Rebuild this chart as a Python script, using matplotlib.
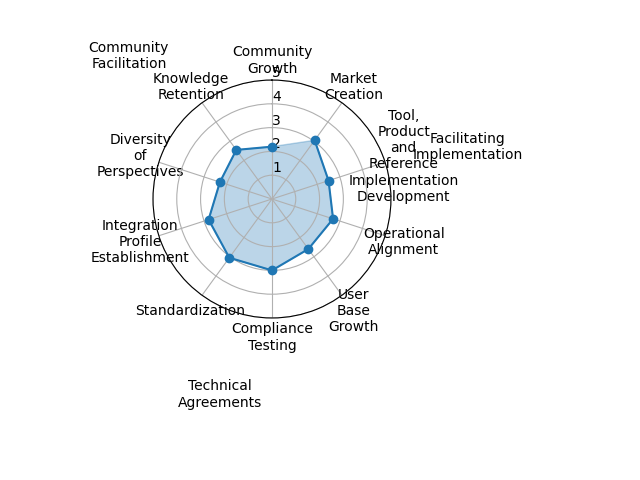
import numpy as np
import matplotlib
matplotlib.use('Agg')
import matplotlib.pyplot as plt

# categories in drawing order (counter-clockwise from the top)
categories = ['Community Growth', 'Knowledge Retention', 'Diversity of Perspectives',
              'Integration Profile Establishment', 'Standardization', 'Compliance Testing',
              'User Base Growth', 'Operational Alignment',
              'Tool, Product and Reference Implementation Development', 'Market Creation']
values = [2.2, 2.55, 2.3, 2.8, 3.05, 3.0, 2.6, 2.7, 2.5, 3.05]

groups = ['Community Facilitation', 'Technical Agreements', 'Facilitating Implementation']
group_r = 8.5

angles = np.linspace(0, 2 * np.pi, len(categories), endpoint=False)
group_angles = np.linspace(0, 2 * np.pi, len(groups), endpoint=False) + np.pi / 4

fig = plt.figure(figsize=(6.4, 4.8), dpi=100)
ax = fig.add_axes([0.239, 0.3375, 0.3719, 0.4958], projection='polar')
ax.set_theta_offset(np.pi / 2)

ax.plot(angles, values, 'o-', color='C0', linewidth=1.5)
ax.fill(angles, values, color='C0', alpha=0.3)

ax.set_xticks(angles)
ax.set_xticklabels([c.replace(' ', '\n') for c in categories])
ax.set_ylim(0, 5)
ax.set_yticks([1, 2, 3, 4, 5])
ax.set_rlabel_position(0)

for a, g in zip(group_angles, groups):
    ax.text(a, group_r, g.replace(' ', '\n'), ha='center', va='center')

fig.savefig('out.png')
